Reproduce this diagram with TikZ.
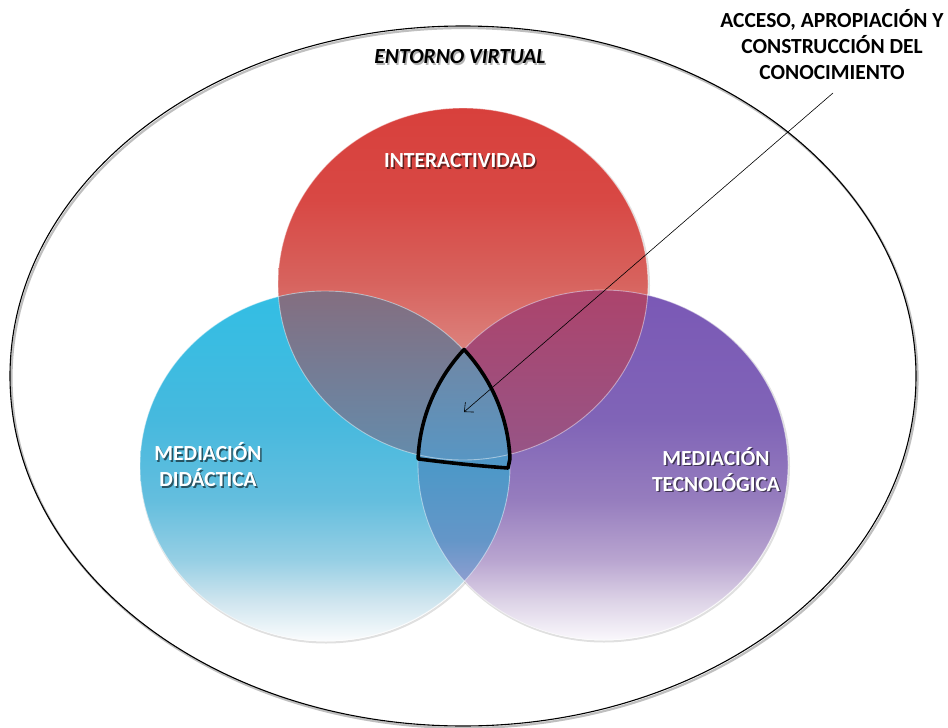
\documentclass[tikz,border=0pt]{standalone}
\usepackage{fontspec}
\setmainfont{Carlito}
\usetikzlibrary{arrows.meta,calc}

% base colours of the three circles (top to bottom stops)
\definecolor{rA}{RGB}{216,64,60}
\definecolor{rB}{RGB}{216,72,68}
\definecolor{rC}{RGB}{215,98,93}
\definecolor{rD}{RGB}{220,130,125}
\definecolor{rE}{RGB}{232,168,162}
\definecolor{bA}{RGB}{50,190,228}
\definecolor{bB}{RGB}{70,185,222}
\definecolor{bC}{RGB}{100,190,222}
\definecolor{bD}{RGB}{150,207,228}
\definecolor{bE}{RGB}{205,228,238}
\definecolor{bF}{RGB}{250,252,253}
\definecolor{pA}{RGB}{122,88,182}
\definecolor{pB}{RGB}{128,100,183}
\definecolor{pC}{RGB}{150,125,190}
\definecolor{pD}{RGB}{185,165,208}
\definecolor{pE}{RGB}{220,210,230}
\definecolor{pF}{RGB}{250,248,252}
% overlap colours
\definecolor{rbA}{RGB}{132,110,128}
\definecolor{rbB}{RGB}{100,140,172}
\definecolor{rpA}{RGB}{172,68,108}
\definecolor{rpB}{RGB}{150,85,135}
\definecolor{bpA}{RGB}{95,145,185}
\definecolor{bpB}{RGB}{78,152,200}
\definecolor{bpC}{RGB}{100,150,200}
\definecolor{bpD}{RGB}{150,160,210}
\definecolor{bpE}{RGB}{215,205,230}
\definecolor{tA}{RGB}{112,135,165}
\definecolor{tB}{RGB}{88,150,195}

\pgfdeclareverticalshading{gradrojo}{100bp}{color(0bp)=(rE); color(25bp)=(rE);
  color(40.6bp)=(rD); color(50.6bp)=(rC); color(62bp)=(rB); color(75bp)=(rA); color(100bp)=(rA)}
\pgfdeclareverticalshading{gradazul}{100bp}{color(0bp)=(bF); color(25bp)=(bF);
  color(30.9bp)=(bE); color(36.6bp)=(bD); color(45.1bp)=(bC); color(56.6bp)=(bB);
  color(75bp)=(bA); color(100bp)=(bA)}
\pgfdeclareverticalshading{gradmorado}{100bp}{color(0bp)=(pF); color(25bp)=(pF);
  color(30.7bp)=(pE); color(36.4bp)=(pD); color(45bp)=(pC); color(56.4bp)=(pB);
  color(75bp)=(pA); color(100bp)=(pA)}
\pgfdeclareverticalshading{gradbp}{100bp}{color(0bp)=(bpE); color(25bp)=(bpE);
  color(33.8bp)=(bpD); color(42.4bp)=(bpC); color(54.4bp)=(bpB);
  color(75bp)=(bpA); color(100bp)=(bpA)}

\begin{document}
\begin{tikzpicture}[x=1pt,y=-1pt,
  etiqueta/.style={font=\fontsize{21.5}{26}\selectfont\bfseries, align=center, inner sep=0pt},
  blanco/.style={etiqueta, text=white},
  sombra/.style={etiqueta, text=black, text opacity=0.55},
  contorno/.style={draw=white, draw opacity=0.45, line width=0.9pt},
  sombracirc/.style={draw=black, draw opacity=0.12, line width=2pt},
  zona/.style={draw=black, line width=3.6pt, line join=round},
  flecha/.style={draw=black, line width=0.6pt, -{Straight Barb[length=7pt,width=13pt]}}]

\useasboundingbox (0,0) rectangle (948,728);
\fill[white] (0,0) rectangle (948,728);

% centres of the outer ellipse and of the three circles
\coordinate (cE) at (463,376);
\coordinate (cR) at (463,284);
\coordinate (cB) at (325,466);
\coordinate (cP) at (603,465);

\def\elR{(cR) ellipse [x radius=185, y radius=176]}
\def\elB{(cB) ellipse [x radius=185, y radius=175]}
\def\elP{(cP) ellipse [x radius=185, y radius=175]}

% outer ellipse with a soft shadow
\draw[draw=black, draw opacity=0.25, line width=2.2pt] ([shift={(1.5,2)}]cE) ellipse [x radius=453, y radius=350];
\draw[line width=1.1pt] (cE) ellipse [x radius=453, y radius=350];

% soft shadows of the circles
\draw[sombracirc] ([shift={(1,1.5)}]cR) ellipse [x radius=185, y radius=176];
\draw[sombracirc] ([shift={(1,1.5)}]cB) ellipse [x radius=185, y radius=175];
\draw[sombracirc] ([shift={(1,1.5)}]cP) ellipse [x radius=185, y radius=175];

% the three circles
\shade[shading=gradrojo] \elR;
\shade[shading=gradmorado] \elP;
\shade[shading=gradazul] \elB;

% overlaps
\begin{scope}
  \clip \elB; \clip \elR;
  \shade[top color=rbA, bottom color=rbB] (130,291) rectangle (480,460);
\end{scope}
\begin{scope}
  \clip \elP; \clip \elR;
  \shade[top color=rpA, bottom color=rpB] (440,290) rectangle (660,460);
\end{scope}
\begin{scope}
  \clip \elB; \clip \elP;
  \shade[shading=gradbp] (400,350) rectangle (530,641);
\end{scope}
\begin{scope}
  \clip \elB; \clip \elP; \clip \elR;
  \shade[top color=tA, bottom color=tB] (400,350) rectangle (530,460);
\end{scope}

% light rims
\draw[contorno] \elR;
\draw[contorno] \elB;
\draw[contorno] \elP;

% central region outlined in black
\draw[zona] ($(cP)+(-178:185 and 175)$) coordinate (zi)
  arc[start angle=-178, end angle=-138.7, x radius=185, y radius=175]
  arc[start angle=-41.3, end angle=-2, x radius=185, y radius=175]
  -- (508,468) .. controls (480,466) and (450,463) .. (zi) -- cycle;

% labels
\node[etiqueta, font=\fontsize{21.5}{26}\selectfont\bfseries\itshape, text=black, text opacity=0.3]
  (entorno-s) at (461.5,58.5) {ENTORNO VIRTUAL};
\node[etiqueta, font=\fontsize{21.5}{26}\selectfont\bfseries\itshape] (entorno) at (460,57) {ENTORNO VIRTUAL};

\node[sombra] (interactividad-s) at (461.5,162.5) {INTERACTIVIDAD};
\node[blanco] (interactividad) at (460,161) {INTERACTIVIDAD};

\node[sombra] (didactica-s) at (209.5,466.5) {MEDIACIÓN\\DIDÁCTICA};
\node[blanco] (didactica) at (208,465) {MEDIACIÓN\\DIDÁCTICA};

\node[sombra] (tecnologica-s) at (717.5,471) {MEDIACIÓN\\TECNOLÓGICA};
\node[blanco] (tecnologica) at (716,469.5) {MEDIACIÓN\\TECNOLÓGICA};

\node[etiqueta] (acceso) at (832,45) {ACCESO, APROPIACIÓN Y\\CONSTRUCCIÓN DEL\\CONOCIMIENTO};

% pointer into the central region
\coordinate (inicio) at (833,93);
\coordinate (punta) at (464,412);
\draw[flecha] (inicio) -- (punta);

\end{tikzpicture}
\end{document}
